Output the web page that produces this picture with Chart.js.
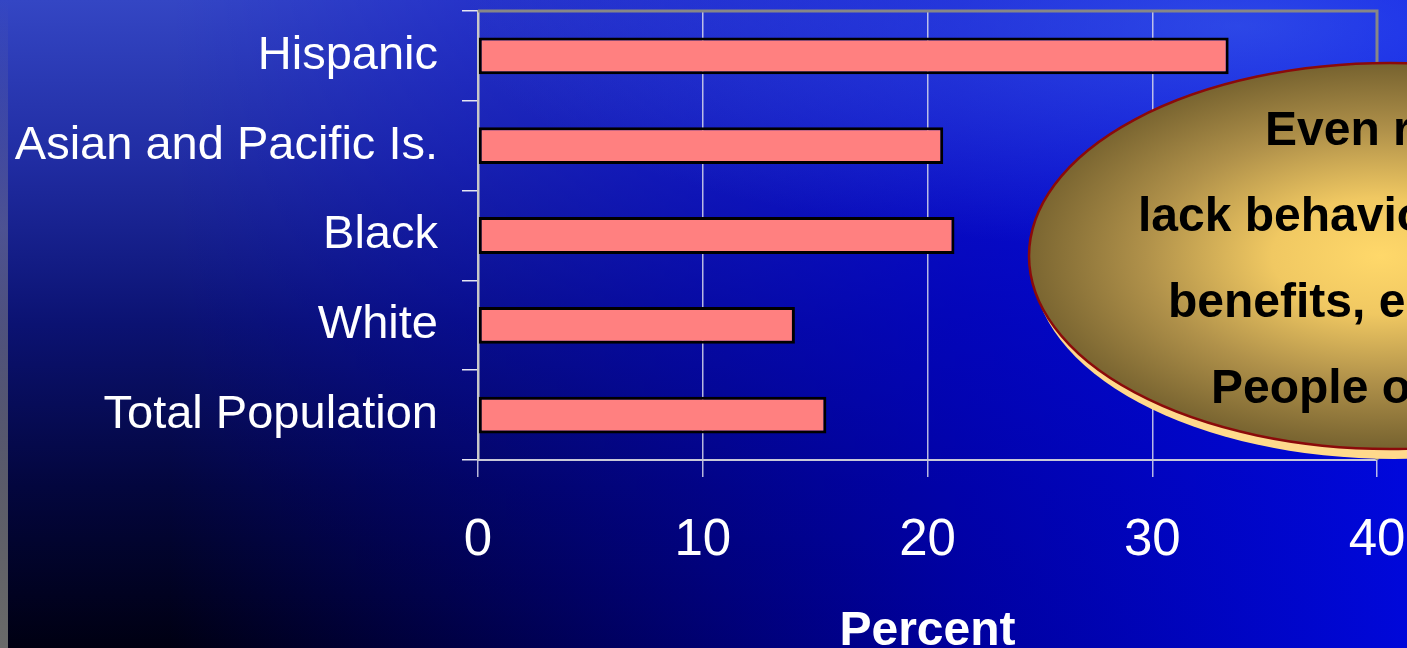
<!DOCTYPE html>
<html>
<head>
<meta charset="utf-8">
<script src="https://cdn.jsdelivr.net/npm/chart.js@4"></script>
<style>
    html, body { margin: 0; padding: 0; overflow: hidden; }
    #wrap {
        position: relative;
        width: 1407px;
        height: 648px;
        overflow: hidden;
        background:
            radial-gradient(ellipse 55% 35% at 88% 4%, rgba(90, 140, 245, 0.45), rgba(90, 140, 245, 0) 100%),
            linear-gradient(to right, rgba(0, 0, 220, 0) 12%, rgba(0, 0, 215, 0.7) 68%, rgba(0, 8, 228, 0.95) 100%),
            linear-gradient(to bottom, #3446c4 0%, #202ca2 25%, #0b1272 50%, #03063e 75%, #000012 100%);
    }
    #edge {
        position: absolute; left: 0; top: 0; width: 8px; height: 648px;
        background: linear-gradient(to bottom, rgba(130, 130, 150, 0) 0%, rgba(130, 130, 150, 0.5) 35%, #6a6a6a 100%);
    }
    #chartBox { position: absolute; left: 0; top: 0; width: 1407px; height: 655px; }
</style>
</head>
<body>
<div id="wrap">
    <div id="edge"></div>
    <div id="chartBox"><canvas id="noCoverage"></canvas></div>
</div>
<script>
const groups = ['Hispanic', 'Asian and Pacific Is.', 'Black', 'White', 'Total Population'];
const percentUninsured = [33.4, 20.7, 21.2, 14.1, 15.5];
const percentTicks = [0, 10, 20, 30, 40];
const calloutLines = ['Even racial and ethnic groups', 'lack behavioral health', 'benefits, especially', 'People of color'];

const FONT = '"Liberation Sans", Arial, sans-serif';

// keep the plot box where the slide had it
function noEdgePadding(scale) {
    scale.paddingTop = 0;
    scale.paddingBottom = 0;
    scale.paddingLeft = 0;
    scale.paddingRight = 0;
}

// grey frame on top and right of the plot
const frame = {
    id: 'frame',
    beforeDatasetsDraw(chart) {
        const { ctx, chartArea: a } = chart;
        ctx.save();
        ctx.strokeStyle = '#878787';
        ctx.lineWidth = 3;
        ctx.beginPath();
        ctx.moveTo(a.left, a.top);
        ctx.lineTo(a.right, a.top);
        ctx.lineTo(a.right, a.bottom);
        ctx.stroke();
        ctx.restore();
    }
};

// gold oval note over the right side
const callout = {
    id: 'callout',
    afterDraw(chart) {
        const ctx = chart.ctx;
        const cx = 1390, cy = 256, rx = 361, ry = 193;
        ctx.save();

        ctx.fillStyle = '#ffd98c';
        ctx.beginPath();
        ctx.ellipse(cx + 4, cy + 10, rx, ry, 0, 0, Math.PI * 2);
        ctx.fill();

        ctx.save();
        ctx.translate(cx, cy);
        ctx.scale(1, ry / rx);
        const g = ctx.createRadialGradient(-10, 0, 0, -10, 0, rx);
        g.addColorStop(0, '#ffd86a');
        g.addColorStop(0.3, '#f0c862');
        g.addColorStop(0.65, '#b0914a');
        g.addColorStop(1, '#76622f');
        ctx.fillStyle = g;
        ctx.beginPath();
        ctx.arc(0, 0, rx, 0, Math.PI * 2);
        ctx.fill();
        ctx.restore();

        ctx.strokeStyle = '#8b0a0a';
        ctx.lineWidth = 2.5;
        ctx.beginPath();
        ctx.ellipse(cx, cy, rx, ry, 0, 0, Math.PI * 2);
        ctx.stroke();

        ctx.fillStyle = '#000000';
        ctx.font = 'bold 48px ' + FONT;
        ctx.textAlign = 'left';
        ctx.textBaseline = 'alphabetic';
        const starts = [1265, 1138, 1168, 1211];
        calloutLines.forEach((t, i) => ctx.fillText(t, starts[i], 145 + i * 86));
        ctx.restore();
    }
};

const ctx = document.getElementById('noCoverage').getContext('2d');

new Chart(ctx, {
    type: 'bar',
    data: {
        labels: groups,
        datasets: [{
            data: percentUninsured,
            backgroundColor: '#ff8080',
            borderColor: '#000000',
            borderWidth: 3,
            borderSkipped: false,
            categoryPercentage: 1,
            barPercentage: 0.41
        }]
    },
    options: {
        indexAxis: 'y',
        responsive: true,
        maintainAspectRatio: false,
        animation: false,
        events: [],
        layout: { padding: { top: 11, right: 30, left: 0, bottom: 0 } },
        plugins: {
            legend: { display: false },
            tooltip: { enabled: false }
        },
        scales: {
            x: {
                min: 0,
                max: 40,
                afterFit(scale) { scale.height = 195; noEdgePadding(scale); },
                afterBuildTicks(scale) { scale.ticks = percentTicks.map(v => ({ value: v })); },
                ticks: {
                    color: '#ffffff',
                    padding: 33,
                    font: { family: FONT, size: 51 }
                },
                grid: {
                    color: 'rgba(215, 215, 235, 0.85)',
                    lineWidth: 1.5,
                    tickLength: 17
                },
                border: { color: '#c8c8d8', width: 2 },
                title: {
                    display: true,
                    text: 'Percent',
                    color: '#ffffff',
                    padding: { top: 0, bottom: -6 },
                    font: { family: FONT, size: 48, weight: 'bold' }
                }
            },
            y: {
                afterFit(scale) { scale.width = 478; noEdgePadding(scale); },
                ticks: {
                    color: '#ffffff',
                    padding: 24,
                    labelOffset: 0,
                    font: { family: FONT, size: 47 }
                },
                grid: {
                    drawOnChartArea: false,
                    color: '#e6e6f2',
                    lineWidth: 1.5,
                    tickLength: 16
                },
                border: { color: '#c8c8c8', width: 2.5 }
            }
        }
    },
    plugins: [frame, callout]
});
</script>
</body>
</html>
